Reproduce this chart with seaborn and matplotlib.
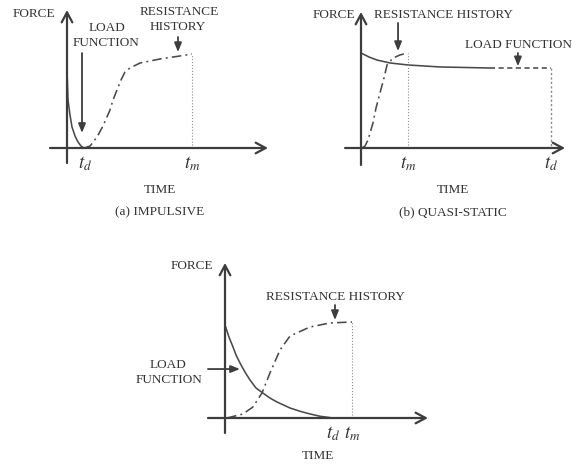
import matplotlib
matplotlib.use("Agg")
import matplotlib.pyplot as plt
import pandas as pd
import seaborn as sns

sns.set_theme(style="white")
plt.rcParams["font.family"] = ["Liberation Serif", "DejaVu Serif"]
plt.rcParams["mathtext.fontset"] = "stix"

# ---------------- data (normalised time / force) ----------------
# (a) impulsive: t_m = 1, peak resistance = 1
a_td, a_tm = 0.136, 1.0
a_load_t = [0.0, 0.008, 0.024, 0.04, 0.064, 0.088, 0.112, 0.136]
a_load_f = [0.83, 0.511, 0.351, 0.223, 0.128, 0.064, 0.021, 0.0]
a_res_t = [0.136, 0.184, 0.24, 0.288, 0.344, 0.368, 0.40, 0.432, 0.464, 0.504, 0.584, 0.744, 0.904, 1.0]
a_res_f = [0.0, 0.02, 0.117, 0.234, 0.404, 0.511, 0.617, 0.723, 0.809, 0.851, 0.904, 0.947, 0.979, 1.0]

# (b) quasi-static: t_d = 1
b_td, b_tm = 1.0, 0.247
b_load_t = [0.0, 0.042, 0.084, 0.153, 0.247, 0.416, 0.679]
b_load_f = [1.0, 0.958, 0.926, 0.895, 0.874, 0.853, 0.842]
b_tail_t = [0.679, 1.0, 1.0]
b_tail_f = [0.842, 0.842, 0.0]
b_res_t = [0.005, 0.021, 0.037, 0.063, 0.079, 0.10, 0.121, 0.137, 0.168, 0.205, 0.242]
b_res_f = [0.0, 0.021, 0.084, 0.263, 0.421, 0.579, 0.737, 0.874, 0.947, 0.979, 1.0]

# (c) general case: t_m = 1
c_td, c_tm = 0.85, 1.0
c_load_t = [0.0, 0.031, 0.063, 0.087, 0.118, 0.157, 0.197, 0.244, 0.299, 0.354,
            0.409, 0.512, 0.591, 0.669, 0.748, 0.85]
c_load_f = [0.969, 0.844, 0.74, 0.656, 0.573, 0.479, 0.396, 0.3125, 0.26, 0.208,
            0.167, 0.104, 0.07, 0.042, 0.018, 0.0]
c_res_t = [0.016, 0.142, 0.22, 0.291, 0.354, 0.433, 0.512, 0.669, 0.827, 1.0]
c_res_f = [0.0, 0.042, 0.115, 0.26, 0.469, 0.708, 0.854, 0.948, 0.99, 1.0]

# ---------------- styling ----------------
W, H = 576, 467
AX_C = "#3d3d3d"
CURVE_C = "#4a4a4a"
DOT_C = "#8a8a8a"
TXT_C = "#333333"
FS = 9.5
TFS = 13.5
DASHDOT = (0, (6, 2.6, 1.2, 2.6))

fig = plt.figure(figsize=(W / 100, H / 100), dpi=100)
fig.patch.set_facecolor("white")


def panel(origin, sx, sy, xlim, ylim):
    ox, oy = origin
    left = ox + xlim[0] * sx
    right = ox + xlim[1] * sx
    top = oy - ylim[1] * sy
    bottom = oy - ylim[0] * sy
    ax = fig.add_axes([left / W, 1 - bottom / H, (right - left) / W, (bottom - top) / H])
    ax.set_xlim(xlim)
    ax.set_ylim(ylim)
    ax.axis("off")
    return ax


def axes_arrows(ax, x0, x1, y0, y1):
    style = dict(arrowstyle="->,head_length=0.6,head_width=0.32", lw=1.6,
                 color=AX_C, shrinkA=0, shrinkB=0)
    ax.annotate("", xy=(x1, 0), xytext=(x0, 0), arrowprops=style, annotation_clip=False)
    ax.annotate("", xy=(0, y1), xytext=(0, y0), arrowprops=style, annotation_clip=False)


def pointer(ax, start, end):
    ax.annotate("", xy=end, xytext=start, annotation_clip=False,
                arrowprops=dict(arrowstyle="-|>,head_length=0.45,head_width=0.18",
                                lw=1.3, color=AX_C, shrinkA=0, shrinkB=0))


def curve(ax, t, f, ls):
    df = pd.DataFrame({"time": t, "force": f})
    sns.lineplot(data=df, x="time", y="force", ax=ax, sort=False, estimator=None,
                 color=CURVE_C, lw=1.15, linestyle=ls)


def label(ax, x, y, s, size=FS, ha="center"):
    ax.text(x, y, s, fontsize=size, color=TXT_C, ha=ha, va="center")


# ---------------- (a) impulsive ----------------
ax = panel((67, 148), 125, 94, (-0.2, 1.7), (-0.75, 1.55))
axes_arrows(ax, -0.136, 1.608, -0.16, 1.468)
curve(ax, a_load_t, a_load_f, "-")
curve(ax, a_res_t, a_res_f, DASHDOT)
ax.plot([a_tm, a_tm], [0, a_res_f[-1]], color=DOT_C, lw=0.8, ls=":")
label(ax, -0.096, 1.426, "FORCE", ha="right")
label(ax, 0.32, 1.277, "LOAD")
label(ax, 0.312, 1.117, "FUNCTION")
pointer(ax, (0.12, 1.01), (0.12, 0.16))
label(ax, 0.896, 1.447, "RESISTANCE")
label(ax, 0.888, 1.287, "HISTORY")
pointer(ax, (0.888, 1.181), (0.888, 1.02))
label(ax, a_td + 0.008, -0.17, r"$t_d$", size=TFS)
label(ax, a_tm, -0.17, r"$t_m$", size=TFS)
label(ax, 0.744, -0.447, "TIME")
label(ax, 0.744, -0.681, "(a) IMPULSIVE")

# ---------------- (b) quasi-static ----------------
ax = panel((361, 148), 190, 95, (-0.12, 1.12), (-0.75, 1.5))
axes_arrows(ax, -0.084, 1.074, -0.179, 1.432)
curve(ax, b_load_t, b_load_f, "-")
ax.plot(b_tail_t[:2], b_tail_f[:2], color=CURVE_C, lw=1.15, ls=(0, (3.2, 2.2)))
ax.plot(b_tail_t[1:], b_tail_f[1:], color=DOT_C, lw=1.0, ls=(0, (1.6, 1.6)))
curve(ax, b_res_t, b_res_f, DASHDOT)
ax.plot([b_tm, b_tm], [0, b_res_f[-1]], color=DOT_C, lw=0.8, ls=":")
label(ax, -0.032, 1.4, "FORCE", ha="right")
label(ax, 0.432, 1.4, "RESISTANCE HISTORY")
pointer(ax, (0.195, 1.316), (0.195, 1.02))
label(ax, 0.826, 1.084, "LOAD FUNCTION")
pointer(ax, (0.826, 1.0), (0.826, 0.86))
label(ax, b_tm, -0.168, r"$t_m$", size=TFS)
label(ax, b_td, -0.168, r"$t_d$", size=TFS)
label(ax, 0.484, -0.442, "TIME")
label(ax, 0.484, -0.674, "(b) QUASI-STATIC")

# ---------------- (c) general ----------------
ax = panel((225, 418), 127, 96, (-0.7, 1.7), (-0.55, 1.7))
axes_arrows(ax, -0.134, 1.598, -0.156, 1.615)
curve(ax, c_load_t, c_load_f, "-")
curve(ax, c_res_t, c_res_f, DASHDOT)
ax.plot([c_tm, c_tm], [0, c_res_f[-1]], color=DOT_C, lw=0.8, ls=":")
label(ax, -0.094, 1.583, "FORCE", ha="right")
label(ax, 0.866, 1.26, "RESISTANCE HISTORY")
pointer(ax, (0.866, 1.177), (0.866, 1.02))
label(ax, -0.449, 0.552, "LOAD")
label(ax, -0.441, 0.396, "FUNCTION")
pointer(ax, (-0.134, 0.51), (0.118, 0.51))
label(ax, c_td, -0.165, r"$t_d$", size=TFS)
label(ax, c_tm, -0.165, r"$t_m$", size=TFS)
label(ax, 0.732, -0.396, "TIME")

fig.savefig("out.png", dpi=100, facecolor="white")
